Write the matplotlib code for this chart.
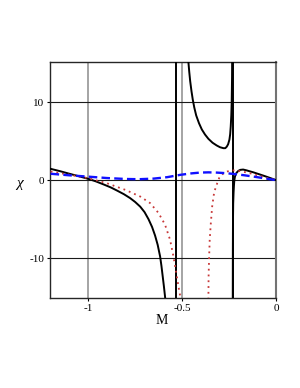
import matplotlib
matplotlib.use("Agg")
import matplotlib.pyplot as plt

# ---- data ----
black_left_x = [-1.2, -1.15, -1.1, -1.05, -1.0, -0.96, -0.918, -0.88, -0.847, -0.81, -0.777, -0.75, -0.723,
                -0.70, -0.679, -0.66, -0.644, -0.63, -0.617, -0.61, -0.603, -0.597, -0.591, -0.589]
black_left_y = [1.45, 1.15, 0.82, 0.5, 0.17, -0.15, -0.55, -0.93, -1.33, -1.8, -2.3, -2.8, -3.4,
                -4.1, -5.0, -6.0, -7.1, -8.3, -9.8, -11.0, -12.4, -13.6, -14.9, -15.4]
black_mid_x = [-0.467, -0.462, -0.457, -0.45, -0.443, -0.435, -0.425, -0.41, -0.395, -0.378, -0.36, -0.338,
               -0.316, -0.298, -0.28, -0.27, -0.262, -0.255, -0.248, -0.244, -0.241, -0.238, -0.236, -0.235,
               -0.234, -0.2335]
black_mid_y = [15.3, 13.9, 12.7, 11.4, 10.3, 9.3, 8.3, 7.3, 6.5, 5.85, 5.3, 4.8,
               4.45, 4.22, 4.1, 4.1, 4.3, 4.6, 5.2, 5.9, 6.9, 8.3, 9.9, 11.5,
               13.3, 15.3]
black_right_x = [-0.2302, -0.2297, -0.229, -0.228, -0.226, -0.224, -0.222, -0.219, -0.216, -0.21, -0.20,
                 -0.19, -0.175, -0.156, -0.138, -0.12, -0.10, -0.085, -0.06, -0.04, -0.02, 0.0]
black_right_y = [-15.3, -9.0, -5.0, -3.0, -1.6, -0.7, -0.05, 0.4, 0.65, 0.95, 1.2,
                 1.32, 1.36, 1.25, 1.12, 1.0, 0.84, 0.72, 0.52, 0.35, 0.18, 0.0]
black_jumps = [-0.530, -0.2304]

red_left_x = [-1.2, -1.1, -1.0, -0.9, -0.803, -0.723, -0.67, -0.626, -0.591, -0.564, -0.546, -0.532,
              -0.518, -0.507]
red_left_y = [1.1, 0.7, 0.25, -0.4, -1.24, -2.1, -2.95, -4.2, -5.7, -7.65, -9.8, -11.8,
              -13.8, -15.3]
red_right_x = [-0.360, -0.359, -0.356, -0.353, -0.347, -0.340, -0.330, -0.322, -0.316, -0.309, -0.302,
               -0.289, -0.275, -0.262, -0.245, -0.227, -0.21, -0.19, -0.17, -0.15, -0.125, -0.103, -0.075,
               -0.05, -0.025, 0.0]
red_right_y = [-15.3, -12.4, -9.8, -7.65, -5.5, -3.4, -1.67, -1.0, -0.6, -0.1, 0.3,
               0.7, 0.95, 1.1, 1.2, 1.25, 1.22, 1.15, 1.05, 0.95, 0.8, 0.65, 0.47,
               0.3, 0.15, 0.0]

blue_x = [-1.2, -1.1, -1.0, -0.9, -0.8, -0.73, -0.65, -0.58, -0.51, -0.45, -0.404, -0.36, -0.316,
          -0.27, -0.227, -0.17, -0.121, -0.06, 0.0]
blue_y = [0.82, 0.62, 0.45, 0.27, 0.15, 0.12, 0.2, 0.38, 0.68, 0.87, 0.97, 1.0, 0.97,
          0.9, 0.8, 0.63, 0.46, 0.23, 0.0]

xticks = [-1, -0.5, 0]
xtick_labels = ["-1", "-0.5", "0"]
yticks = [-10, 0, 10]
ytick_labels = ["-10", "0", "10"]

# ---- figure ----
plt.rcParams['font.family'] = ['Liberation Serif', 'DejaVu Serif']
fig = plt.figure(figsize=(3.0, 3.88), dpi=100)
ax = fig.add_axes([0.1657, 0.2312, 0.9200 - 0.1657, 0.8402 - 0.2312])
ax.set_xlim(-1.205, 0.0)
ax.set_ylim(-15.15, 15.15)

for xv in xticks:
    ax.axvline(xv, color='0.55', lw=1.1, zorder=1)
for yv in yticks:
    ax.axhline(yv, color='0.1', lw=0.8, zorder=1)

for xj in black_jumps:
    ax.axvline(xj, color='black', lw=1.4, zorder=3)

kw_black = dict(color='black', lw=1.4, zorder=3, solid_joinstyle='round')
ax.plot(black_left_x, black_left_y, **kw_black)
ax.plot(black_mid_x, black_mid_y, **kw_black)
ax.plot(black_right_x, black_right_y, **kw_black)

kw_red = dict(color='#c83838', lw=1.3, linestyle=(0, (1, 2.2)), zorder=4)
ax.plot(red_left_x, red_left_y, **kw_red)
ax.plot(red_right_x, red_right_y, **kw_red)

ax.plot(blue_x, blue_y, color='#1010ff', lw=1.7, linestyle=(0, (3.6, 1.8)), zorder=5)

ax.set_xticks(xticks)
ax.set_xticklabels(xtick_labels)
ax.set_yticks(yticks)
ax.set_yticklabels(ytick_labels)
ax.tick_params(axis='both', length=2.5, width=0.8, labelsize=8, pad=1.5, direction='out')

for side in ['left', 'bottom', 'top']:
    ax.spines[side].set_color('0.15')
    ax.spines[side].set_linewidth(1.0)
ax.spines['right'].set_color('0.45')
ax.spines['right'].set_linewidth(1.5)

fig.text(20 / 300, 1 - 183 / 388, "χ", fontsize=11, ha='center', va='center', style='italic')
fig.text(162 / 300, 1 - 320 / 388, "M", fontsize=10, ha='center', va='center')

fig.savefig("out.png", dpi=100)
